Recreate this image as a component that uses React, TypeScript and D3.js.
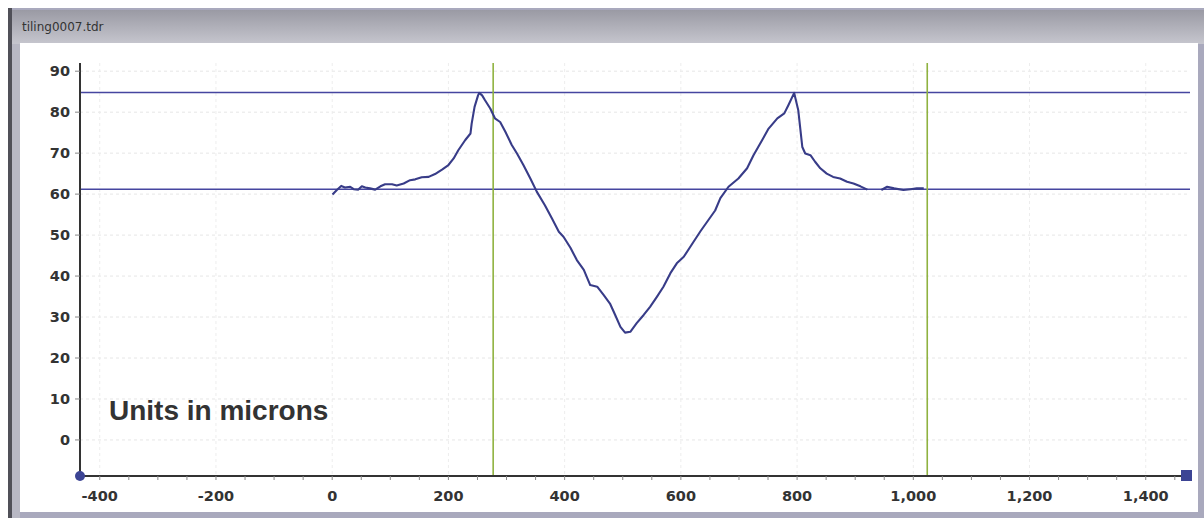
import React from "react";
import * as d3 from "d3";

const profileX = [0.5, 8, 15.5, 22, 31, 37, 45, 51, 57, 65, 74, 83, 91, 103, 111, 123, 134, 143, 154, 166, 177, 189, 200, 209, 217, 229, 238, 240, 245, 251, 253, 258, 263, 272, 280, 289, 298, 309, 318, 329, 341, 352, 366, 378, 390, 398, 410, 421, 433, 444, 456, 467, 478, 487, 496, 504, 513, 524, 536, 547, 559, 570, 582, 593, 605, 616, 634, 659, 668, 682, 699, 714, 725, 740, 751, 766, 778, 785, 795, 802, 809, 814, 823, 831, 840, 851, 862, 874, 886, 897, 909, 921, 933, 945, 955, 967, 983, 995, 1006, 1018];
const profileY = [59.9, 61, 62, 61.6, 61.8, 61.2, 61.1, 61.9, 61.6, 61.4, 61.1, 61.9, 62.4, 62.4, 62.1, 62.6, 63.4, 63.6, 64.1, 64.2, 64.9, 66, 67.1, 68.7, 70.7, 73.2, 74.8, 77.2, 81.3, 84.1, 84.7, 84.1, 82.9, 80.9, 78.5, 77.6, 75.2, 72, 69.9, 67.1, 63.8, 60.6, 57.3, 54.1, 50.8, 49.6, 46.9, 43.9, 41.5, 37.8, 37.4, 35.4, 33.3, 30.5, 27.6, 26.2, 26.4, 28.5, 30.5, 32.5, 35, 37.4, 40.7, 43.1, 44.7, 47.1, 51, 56, 59, 61.8, 63.8, 66.3, 69.5, 73.2, 76, 78.5, 79.7, 81.7, 84.7, 80.5, 71.5, 69.9, 69.5, 67.9, 66.3, 65, 64.2, 63.8, 63, 62.6, 61.9, 61.1, NaN, 61, 61.8, 61.4, 61, 61.2, 61.4, 61.4];

const xTickValues = [-400, -200, 0, 200, 400, 600, 800, 1000, 1200, 1400];
const yTickValues = [0, 10, 20, 30, 40, 50, 60, 70, 80, 90];
const hLineValues = [84.8, 61.2];
const vLineValues = [277, 1024];
const titleText = "tiling0007.tdr";
const noteText = "Units in microns";

export default function App() {
  const W = 1204, H = 518;
  const x = d3.scaleLinear().domain([-434, 1471]).range([80, 1187]);
  const y = d3.scaleLinear().domain([-8.8, 92]).range([476, 63]);
  const pts = profileX.map((v, i) => [v, profileY[i]] as [number, number]);
  const line = d3
    .line<[number, number]>()
    .defined((d) => !isNaN(d[1]))
    .x((d) => x(d[0]))
    .y((d) => y(d[1]));
  const minorTicks = d3.range(-400, 1451, 50);
  const font = "'DejaVu Sans', Verdana, sans-serif";
  const fmt = (v: number) => d3.format(",")(v).replace("\u2212", "-");

  return (
    <svg width={W} height={H} style={{ position: "absolute", left: 0, top: 0 }}>
      <defs>
        <linearGradient id="tb" x1="0" y1="0" x2="0" y2="1">
          <stop offset="0" stopColor="#9a9aa4" />
          <stop offset="1" stopColor="#c6c6ce" />
        </linearGradient>
      </defs>
      <rect x={0} y={0} width={W} height={H} fill="#ffffff" />
      <rect x={8} y={8} width={W - 8} height={H - 8} fill="#a9a9bd" />
      <rect x={10} y={10} width={W - 10} height={34} fill="url(#tb)" />
      <rect x={8} y={8} width={4} height={H - 8} fill="#505058" />
      <rect x={12} y={44} width={8} height={H - 44} fill="#b8b8c4" />
      <rect x={20} y={43} width={1178} height={469} fill="#ffffff" />
      <text x={22} y={31} fontFamily="Tahoma, 'DejaVu Sans', sans-serif" fontSize={12} fill="#333">
        {titleText}
      </text>

      {/* grid */}
      {yTickValues.map((v) => (
        <line key={"gy" + v} x1={80} x2={1187} y1={y(v)} y2={y(v)} stroke="#e6e6e6" strokeWidth={1} strokeDasharray="3,3" />
      ))}
      {xTickValues.map((v) => (
        <line key={"gx" + v} x1={x(v)} x2={x(v)} y1={63} y2={476} stroke="#ededed" strokeWidth={1} strokeDasharray="3,3" />
      ))}

      {/* reference lines */}
      {hLineValues.map((v) => (
        <line key={"h" + v} x1={80} x2={1190} y1={y(v)} y2={y(v)} stroke="#4646a0" strokeWidth={1.4} />
      ))}
      {vLineValues.map((v) => (
        <line key={"v" + v} x1={x(v)} x2={x(v)} y1={63} y2={476} stroke="#8fb240" strokeWidth={1.6} />
      ))}

      {/* profile */}
      <path d={line(pts) || ""} fill="none" stroke="#383c88" strokeWidth={2.1} strokeLinejoin="round" />

      {/* axes */}
      <line x1={80} x2={80} y1={63} y2={476} stroke="#333" strokeWidth={2} />
      <line x1={80} x2={1187} y1={476} y2={476} stroke="#333" strokeWidth={2} />
      {yTickValues.map((v) => (
        <g key={"yt" + v}>
          <line x1={75} x2={80} y1={y(v)} y2={y(v)} stroke="#888" strokeWidth={1} />
          <text x={70} y={y(v) + 5} textAnchor="end" fontFamily={font} fontWeight="bold" fontSize={14.5} fill="#333">
            {v}
          </text>
        </g>
      ))}
      {minorTicks.map((v) => (
        <line key={"mt" + v} x1={x(v)} x2={x(v)} y1={476} y2={480} stroke="#888" strokeWidth={1} />
      ))}
      {xTickValues.map((v) => (
        <text key={"xt" + v} x={x(v)} y={501} textAnchor="middle" fontFamily={font} fontWeight="bold" fontSize={14.5} fill="#333">
          {fmt(v)}
        </text>
      ))}
      <circle cx={80} cy={476} r={5} fill="#3c4494" />
      <rect x={1181} y={470} width={11} height={11} fill="#3c4494" />

      <text x={109} y={420} fontFamily="'Liberation Sans', Arial, sans-serif" fontWeight="bold" fontSize={28} fill="#333">
        {noteText}
      </text>
    </svg>
  );
}
